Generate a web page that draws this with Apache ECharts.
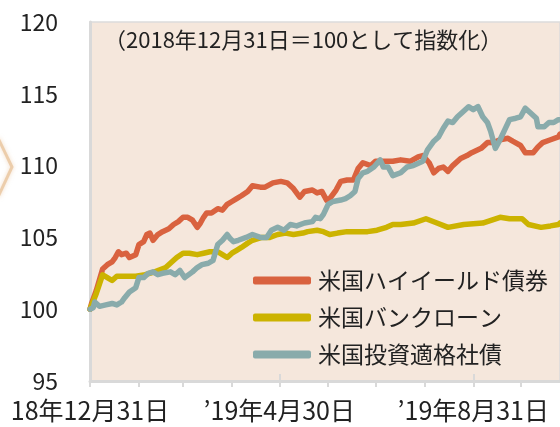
<!DOCTYPE html>
<html><head><meta charset="utf-8">
<script src="https://cdn.jsdelivr.net/npm/echarts@6/dist/echarts.min.js"></script>
<style>html,body{margin:0;padding:0;background:#fff}#c{width:560px;height:427px}</style>
</head><body><div id="c"></div>
<script>
// Day offsets from 2018-12-31, index values (2018-12-31 = 100)
const seriesNames = ['米国ハイイールド債券', '米国バンクローン', '米国投資適格社債'];

const hyDays = [0,1,4,8,11,14,16,18,20,23,25,29,31,34,36,38,40,43,46,50,53,56,59,62,65,68,70,72,74,77,81,84,87,90,93,96,100,103,108,111,116,121,125,129,133,136,141,144,147,150,152,156,159,163,167,170,173,178,181,184,189,192,197,203,208,211,215,218,221,224,227,230,235,239,242,248,252,256,260,265,268,273,276,281,284,287,292,297,298];
const hyValues = [100.0,100.4,101.3,102.8,103.1,103.3,103.6,104.0,103.8,103.9,103.6,103.8,104.5,104.7,105.2,105.3,104.8,105.2,105.4,105.6,105.9,106.1,106.4,106.4,106.2,105.7,106.0,106.4,106.7,106.7,107.0,106.9,107.3,107.5,107.7,107.9,108.2,108.6,108.5,108.5,108.8,108.9,108.8,108.4,107.8,108.2,108.3,108.1,108.2,107.6,107.7,108.3,108.9,109.0,109.0,109.8,110.2,110.0,110.3,110.3,110.3,110.3,110.4,110.3,110.6,110.7,110.2,109.5,109.8,109.9,109.6,110.0,110.5,110.7,110.9,111.2,111.6,111.6,111.8,111.9,111.7,111.4,110.9,110.9,111.3,111.6,111.8,112.0,112.2];

const blDays = [0,1,4,8,11,14,17,22,29,35,41,48,52,55,59,63,68,72,76,81,84,87,90,93,96,100,103,109,114,119,124,129,135,138,144,148,152,157,163,169,176,182,188,192,197,205,213,220,227,237,249,260,266,274,278,286,292,297,298];
const blValues = [100.0,99.9,101.1,102.4,102.2,102.0,102.3,102.3,102.3,102.4,102.6,102.9,103.3,103.6,103.9,103.9,103.8,103.9,104.0,104.0,103.8,103.6,103.9,104.1,104.3,104.6,104.8,105.0,105.0,105.2,105.3,105.2,105.3,105.4,105.5,105.4,105.2,105.3,105.4,105.4,105.4,105.5,105.7,105.9,105.9,106.0,106.3,106.0,105.7,105.9,106.0,106.4,106.3,106.3,105.9,105.7,105.8,105.9,106.0];

const igDays = [0,2,3,6,10,14,17,20,22,25,29,31,34,37,40,43,46,51,54,57,60,65,68,71,75,78,81,84,87,89,91,94,99,103,108,112,115,119,123,127,131,136,141,143,146,148,151,154,159,162,165,168,170,173,176,180,184,186,189,192,197,201,205,211,214,218,221,224,227,230,233,236,240,243,246,249,252,254,257,260,263,266,270,273,276,279,283,284,288,291,294,297,298];
const igValues = [100.0,100.1,100.5,100.2,100.3,100.4,100.3,100.5,100.8,101.2,101.5,102.2,102.2,102.5,102.6,102.4,102.5,102.6,102.4,102.7,102.2,102.6,102.9,103.1,103.2,103.4,104.5,104.8,105.2,104.9,104.7,104.8,105.0,105.2,105.0,105.0,105.5,105.7,105.5,105.9,105.8,106.0,106.1,106.4,106.3,106.6,107.3,107.5,107.6,107.7,107.9,108.2,109.1,109.5,109.6,109.9,110.4,109.9,109.9,109.3,109.5,109.9,110.0,110.3,111.1,111.7,112.0,112.6,113.1,113.0,113.4,113.7,114.1,113.9,114.1,113.4,113.0,112.4,111.2,111.8,112.5,113.2,113.3,113.4,114.0,113.7,113.3,112.7,112.7,113.0,113.0,113.2,113.2];

const monthEndDays = [0,31,59,90,120,151,181,212,243,273];
const labelDays = [0,120,243];
const labelTexts = ['18年12月31日', '’19年4月30日', '’19年8月31日'];
const titleText = '（2018年12月31日＝100として指数化）';
const colors = ['#d9623f', '#ccb300', '#89abab'];

const zip = (d, v) => d.map((x, i) => [x, v[i]]);
const FONT = '"Noto Sans CJK JP", "Noto Sans", sans-serif';

const chart = echarts.init(document.getElementById('c'), null, {renderer: 'canvas'});
chart.setOption({
  animation: false,
  backgroundColor: '#ffffff',
  textStyle: {fontFamily: FONT},
  title: {
    text: titleText, left: 99, top: 24,
    textStyle: {fontSize: 22, fontWeight: 'normal', color: '#222', fontFamily: FONT}
  },
  grid: {
    left: 90, right: 0, top: 22, bottom: 46,
    show: true, backgroundColor: '#f5e7dc', borderColor: '#dcdcdc', borderWidth: 1.5
  },
  legend: {
    orient: 'vertical', left: 248, top: 262,
    icon: 'roundRect', itemWidth: 58, itemHeight: 8, itemGap: 10,
    textStyle: {fontSize: 23, color: '#222', lineHeight: 27, fontFamily: FONT, padding: [0, 0, 0, 2]},
    data: seriesNames
  },
  xAxis: [{
    type: 'value', min: 0, max: 298, position: 'bottom',
    axisLine: {show: true, lineStyle: {color: '#d9d9d9', width: 3}},
    axisTick: {show: true, length: 6, lineStyle: {color: '#d9d9d9', width: 2}, customValues: monthEndDays},
    axisLabel: {
      show: true, fontSize: 25, color: '#222', margin: 17, fontFamily: FONT,
      customValues: labelDays,
      formatter: v => { const i = labelDays.indexOf(Math.round(v)); return i >= 0 ? labelTexts[i] : ''; }
    },
    splitLine: {show: false}
  }, {
    type: 'value', min: 0, max: 298, position: 'bottom',
    axisLine: {show: false},
    axisTick: {show: true, inside: true, length: 7, lineStyle: {color: '#d9d9d9', width: 2}, customValues: labelDays},
    axisLabel: {show: false},
    splitLine: {show: false}
  }],
  yAxis: {
    type: 'value', min: 95, max: 120, interval: 5,
    axisLine: {show: true, lineStyle: {color: '#d9d9d9', width: 3}},
    axisTick: {show: false},
    axisLabel: {fontSize: 23, color: '#222', margin: 32, fontFamily: FONT},
    splitLine: {show: false}
  },
  graphic: [{
    type: 'polyline', z: 0,
    shape: {points: [[-2, 138], [12, 167], [-2, 197]]},
    style: {stroke: '#e2b27e', lineWidth: 3, fill: null, opacity: 0.55, shadowBlur: 4, shadowColor: '#e8c098'}
  }],
  series: [
    {name: seriesNames[0], data: zip(hyDays, hyValues), color: colors[0]},
    {name: seriesNames[1], data: zip(blDays, blValues), color: colors[1]},
    {name: seriesNames[2], data: zip(igDays, igValues), color: colors[2]}
  ].map(s => Object.assign({
    type: 'line', symbol: 'none', showSymbol: false, smooth: false,
    lineStyle: {width: 5.5, cap: 'round', join: 'round', color: s.color},
    itemStyle: {color: s.color}
  }, s))
});
</script>
</body></html>
